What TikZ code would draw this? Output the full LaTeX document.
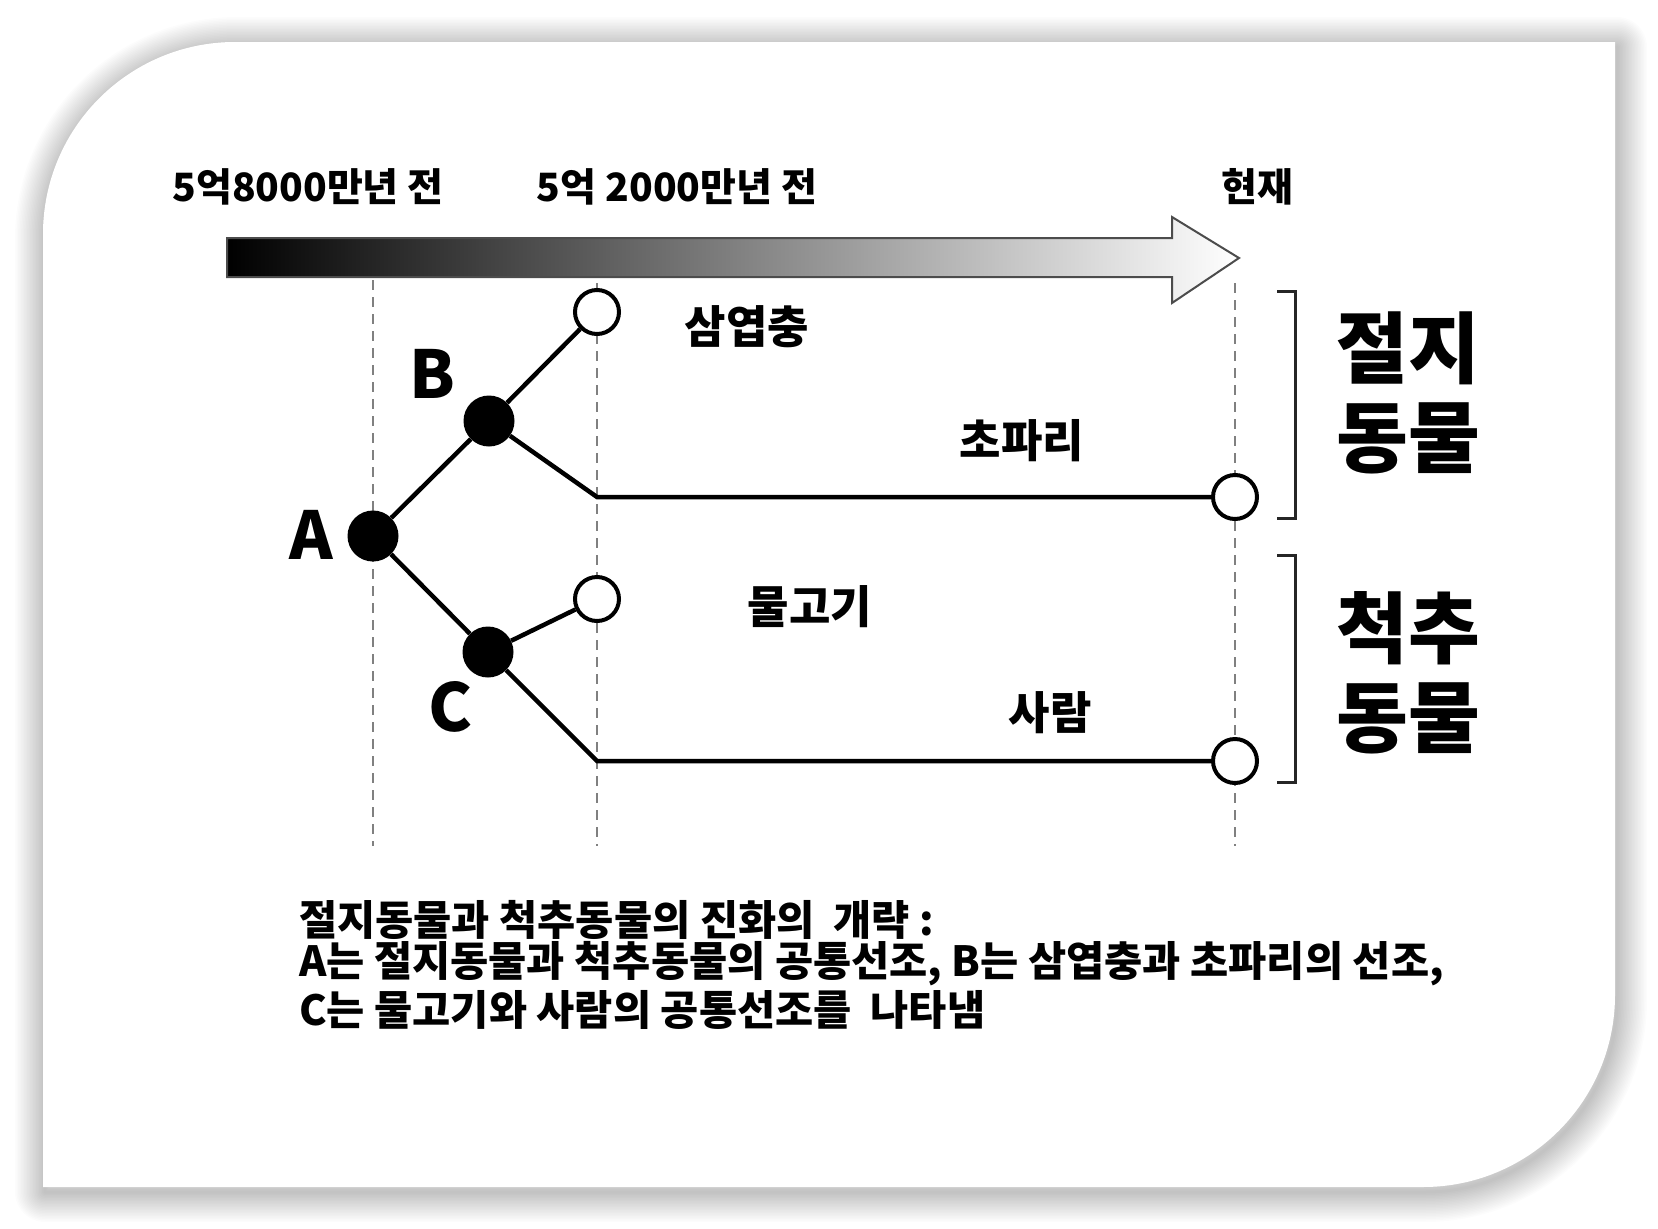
\documentclass[tikz,border=0pt]{standalone}
\usepackage{fontspec}
\setmainfont{Noto Sans CJK KR}
\begin{document}
\begin{tikzpicture}[x=1pt,y=-1pt,
  tree/.style={line width=4.5pt, draw=black},
  fillnode/.style={circle, fill=black, minimum size=51pt, inner sep=0pt},
  opennode/.style={circle, draw=black, line width=4pt, fill=white, minimum size=44pt, inner sep=0pt},
  guide/.style={draw=black!50, line width=2pt, dash pattern=on 10pt off 7pt},
  brk/.style={line width=3pt, draw=black!85},
  toplbl/.style={font=\fontsize{39}{46}\selectfont\bfseries, inner sep=0pt},
  midlbl/.style={font=\fontsize{45}{52}\selectfont\bfseries, inner sep=0pt},
  biglbl/.style={font=\fontsize{78}{86}\selectfont\bfseries, inner sep=0pt},
  letter/.style={font=\fontsize{66}{70}\selectfont\bfseries, inner sep=0pt},
  caption/.style={font=\fontsize{41.5}{46}\selectfont\bfseries, inner sep=0pt, anchor=west}
]
\useasboundingbox (0,0) rectangle (1658,1229);
\fill[white] (0,0) rectangle (1658,1229);
\def\cardpath{(43,234) .. controls (43,128) and (129,42) .. (235,42) -- (1615,42) -- (1615,995) .. controls (1615,1101) and (1529,1187) .. (1423,1187) -- (43,1187) -- cycle}
% shadow
\foreach \w in {3,6,...,60}{
  \draw[line width=\w pt, black, opacity=0.011, line join=round, shift={(2,5)}] \cardpath;
}
\fill[white] \cardpath;

% time arrow
\shade[left color=black, right color=white, draw=black!70, line width=2pt]
  (227,238) -- (1172,238) -- (1172,217) -- (1239,258) -- (1172,303) -- (1172,277) -- (227,277) -- cycle;

% labels on top
\node[toplbl] (t1) at (308,187) {5억8000만년 전};
\node[toplbl] (t2) at (677,187) {5억 2000만년 전};
\node[toplbl] (t3) at (1257,187) {현재};

% dashed guides
\coordinate (g1t) at (373,280); \coordinate (g1b) at (373,846);
\coordinate (g2t) at (597,283); \coordinate (g2b) at (597,846);
\coordinate (g3t) at (1235,283); \coordinate (g3b) at (1235,846);
\draw[guide] (g1t) -- (g1b);
\draw[guide] (g2t) -- (g2b);
\draw[guide] (g3t) -- (g3b);

% tree nodes
\node[fillnode] (A) at (373,536) {};
\node[fillnode] (B) at (489,421) {};
\node[fillnode] (C) at (488,652) {};
\node[opennode] (tri) at (597,312) {};
\node[opennode] (fish) at (597,599) {};
\node[opennode] (fly) at (1235,497) {};
\node[opennode] (man) at (1235,761) {};
\coordinate (kb) at (597,497);
\coordinate (kc) at (597,761);

\draw[tree] (A) -- (B);
\draw[tree] (A) -- (C);
\draw[tree] (B) -- (tri);
\draw[tree] (B) -- (kb) -- (fly);
\draw[tree] (C) -- (fish);
\draw[tree] (C) -- (kc) -- (man);

% letters
\node[letter] (la) at (311,535) {A};
\node[letter] (lb) at (432,374) {B};
\node[letter] (lc) at (451,707) {C};

% species labels
\node[midlbl] (s1) at (747,327) {삼엽충};
\node[midlbl] (s2) at (1022,441) {초파리};
\node[midlbl] (s3) at (810,607) {물고기};
\node[midlbl] (s4) at (1050,713) {사람};

% brackets
\coordinate (b1a) at (1277,291); \coordinate (b1b) at (1295,291);
\coordinate (b1c) at (1295,518); \coordinate (b1d) at (1277,518);
\draw[brk] (b1a) -- (b1b) -- (b1c) -- (b1d);
\coordinate (b2a) at (1277,555); \coordinate (b2b) at (1295,555);
\coordinate (b2c) at (1295,782); \coordinate (b2d) at (1277,782);
\draw[brk] (b2a) -- (b2b) -- (b2c) -- (b2d);

% group labels
\node[biglbl] (g1) at (1408,348) {절지};
\node[biglbl] (g2) at (1408,438) {동물};
\node[biglbl] (g3) at (1408,628) {척추};
\node[biglbl] (g4) at (1408,718) {동물};

% caption
\node[caption] (c1) at (299,920) {절지동물과 척추동물의 진화의 \ 개략 :};
\node[caption] (c2) at (299,964) {A는 절지동물과 척추동물의 공통선조, B는 삼엽충과 초파리의 선조,};
\node[caption] (c3) at (299,1010) {C는 물고기와 사람의 공통선조를 \ 나타냄};
\end{tikzpicture}
\end{document}
